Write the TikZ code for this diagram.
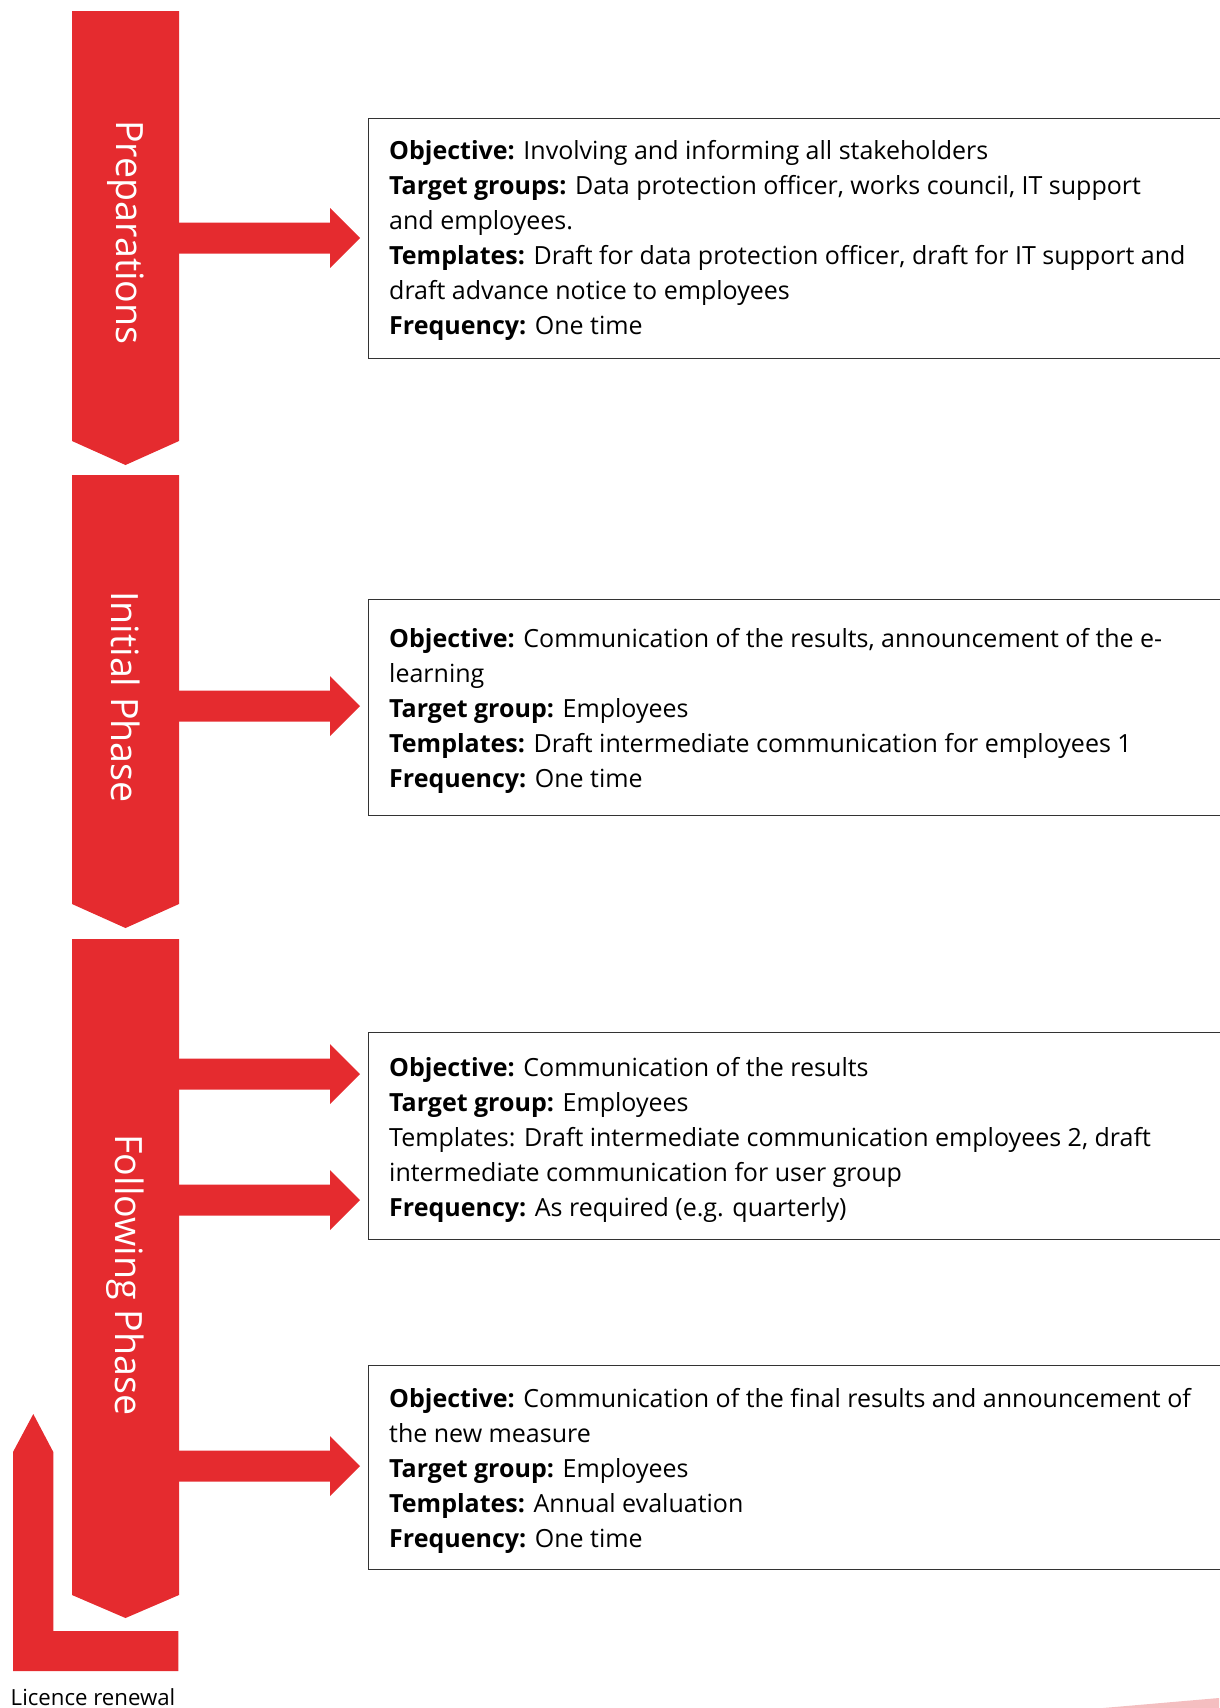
\documentclass[tikz,border=0pt]{standalone}
\usepackage{fontspec}
\setmainfont{Open Sans}
\definecolor{cred}{HTML}{E52B2F}
\definecolor{cpink}{RGB}{245,190,192}
\definecolor{cbox}{HTML}{333333}
\begin{document}
\begin{tikzpicture}[x=1pt,y=-1pt,
  redshape/.style={fill=cred,draw=none},
  box/.style={draw=cbox,line width=1.2pt,fill=none,rectangle,anchor=north west,inner sep=0},
  txt/.style={anchor=base west,inner sep=0,font=\fontsize{25}{30}\selectfont},
  phaselabel/.style={text=white,rotate=-90,inner sep=0,font=\fontsize{37.6}{44}\selectfont}]
\useasboundingbox (0,0) rectangle (1219,1708);

% chevrons
\fill[redshape] (72,11) -- (179,11) -- (179,441) -- (125.5,465) -- (72,441) -- cycle;
\fill[redshape] (72,475) -- (179,475) -- (179,904) -- (125.5,928) -- (72,904) -- cycle;
\fill[redshape] (72,939) -- (179,939) -- (179,1595) -- (125.5,1618) -- (72,1595) -- cycle;

\node[phaselabel] (p1) at (125.5,232.5) {Preparations};
\node[phaselabel] (p2) at (125.5,697) {Initial Phase};
\node[phaselabel] (p3) at (125.5,1275) {Following Phase};

% boxes
\node[box,minimum width=870,minimum height=240] (b1) at (368,118) {};
\node[box,minimum width=870,minimum height=216] (b2) at (368,599) {};
\node[box,minimum width=870,minimum height=207] (b3) at (368,1032) {};
\node[box,minimum width=870,minimum height=204] (b4) at (368,1365) {};

% block arrows
\newcommand\blockarrow[1]{%
  \fill[redshape] (179,#1-15.5) -- (330,#1-15.5) -- (330,#1-30) -- (360,#1) -- (330,#1+30) -- (330,#1+15.5) -- (179,#1+15.5) -- cycle;}
\blockarrow{238}
\blockarrow{706}
\blockarrow{1074}
\blockarrow{1200}
\blockarrow{1466}

% return arrow
\fill[redshape] (13,1671) -- (13,1452) -- (33.3,1414) -- (53.3,1452) -- (53.3,1631) -- (178.3,1631) -- (178.3,1671) -- cycle;
\node[anchor=base,inner sep=0,font=\fontsize{22.2}{26}\selectfont] (lr) at (93,1705) {Licence renewal};

% pink sliver
\fill[cpink] (1103,1708) -- (1219,1698) -- (1219,1708) -- cycle;

% texts box 1
\node[txt] (t1a) at (389,159) {\textbf{Objective:} Involving and informing all stakeholders};
\node[txt] (t1b) at (389,194) {\textbf{Target groups:} Data protection officer, works council, IT support};
\node[txt] (t1c) at (389,229) {and employees.};
\node[txt] (t1d) at (389,264) {\textbf{Templates:} Draft for data protection officer, draft for IT support and};
\node[txt] (t1e) at (389,299) {draft advance notice to employees};
\node[txt] (t1f) at (389,334) {\textbf{Frequency:} One time};

% texts box 2
\node[txt] (t2a) at (389,647) {\textbf{Objective:} Communication of the results, announcement of the e-};
\node[txt] (t2b) at (389,682) {learning};
\node[txt] (t2c) at (389,717) {\textbf{Target group:} Employees};
\node[txt] (t2d) at (389,752) {\textbf{Templates:} Draft intermediate communication for employees 1};
\node[txt] (t2e) at (389,787) {\textbf{Frequency:} One time};

% texts box 3
\node[txt] (t3a) at (389,1076) {\textbf{Objective:} Communication of the results};
\node[txt] (t3b) at (389,1111) {\textbf{Target group:} Employees};
\node[txt] (t3c) at (389,1146) {Templates: Draft intermediate communication employees 2, draft};
\node[txt] (t3d) at (389,1181) {intermediate communication for user group};
\node[txt] (t3e) at (389,1216) {\textbf{Frequency:} As required (e.g. quarterly)};

% texts box 4
\node[txt] (t4a) at (389,1407) {\textbf{Objective:} Communication of the final results and announcement of};
\node[txt] (t4b) at (389,1442) {the new measure};
\node[txt] (t4c) at (389,1477) {\textbf{Target group:} Employees};
\node[txt] (t4d) at (389,1512) {\textbf{Templates:} Annual evaluation};
\node[txt] (t4e) at (389,1547) {\textbf{Frequency:} One time};
\end{tikzpicture}
\end{document}
